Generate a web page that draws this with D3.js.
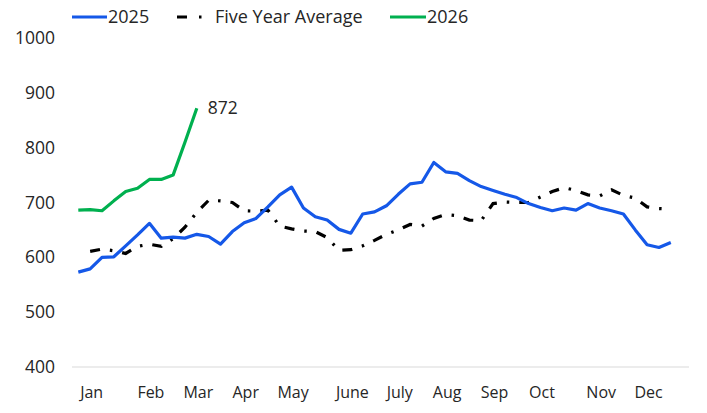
<!DOCTYPE html>
<html><head><meta charset="utf-8">
<script src="https://cdn.jsdelivr.net/npm/d3@7"></script>
<style>
body{margin:0;background:#fff;}
svg text{font-family:"Open Sans","Noto Sans",sans-serif;fill:#262626;}
</style></head>
<body><svg id="c" width="707" height="413"></svg>
<script>
const months = ["Jan","Feb","Mar","Apr","May","June","July","Aug","Sep","Oct","Nov","Dec"];
const monthWeeks = [1,6,10,14,18,23,27,31,35,39,44,48];
const yTicks = [400,500,600,700,800,900,1000];
const s2025 = [573,579,600,601,621,641,662,635,637,635,642,638,624,647,663,671,692,714,728,690,674,668,651,644,679,683,694,715,734,737,773,756,753,740,729,722,715,709,698,691,685,690,686,698,690,685,679,650,623,618,627];
const sAvg = [null,611,615,612,607,620,624,620,634,655,682,704,703,700,685,684,686,657,652,648,647,636,613,614,621,631,642,650,660,657,671,678,676,668,667,698,701,700,700,710,720,727,722,714,712,723,713,708,692,689,688];
const s2026 = [686,687,685,703,720,726,742,742,750,810,872];
const lastLabel = "872";

const svg = d3.select("#c");
const x = d3.scaleLinear().domain([0,51]).range([78.3,682.65]);
const y = d3.scaleLinear().domain([400,1000]).range([367,38]);

svg.append("line").attr("x1",72).attr("x2",689).attr("y1",y(400)).attr("y2",y(400))
  .attr("stroke","#d9d9d9").attr("stroke-width",1);

svg.selectAll(".yl").data(yTicks).enter().append("text")
  .attr("x",55).attr("y",d=>y(d)).attr("dy","0.35em").attr("text-anchor","end")
  .attr("font-size",17.5).text(d=>d);

svg.selectAll(".xl").data(months).enter().append("text")
  .attr("x",(d,i)=>x(monthWeeks[i])+1.5).attr("y",398).attr("text-anchor","middle")
  .attr("font-size",16).text(d=>d);

const line = d3.line().defined(d=>d!=null).x((d,i)=>x(i)).y(d=>y(d));
const lineI = d3.line().x(d=>x(d.i)).y(d=>y(d.v));

svg.append("path").datum(sAvg.map((v,i)=>({i,v})).filter(d=>d.v!=null))
  .attr("d",lineI).attr("fill","none").attr("stroke","#000").attr("stroke-width",3.2)
  .attr("stroke-dasharray","10,10,2.5,10");
svg.append("path").datum(s2025).attr("d",line).attr("fill","none")
  .attr("stroke","#1558e8").attr("stroke-width",3.2).attr("stroke-linejoin","round");
svg.append("path").datum(s2026).attr("d",line).attr("fill","none")
  .attr("stroke","#00b04f").attr("stroke-width",3.2).attr("stroke-linejoin","round");

svg.append("text").attr("x",x(s2026.length-1)+11).attr("y",y(s2026[s2026.length-1])).attr("dy","0.35em")
  .attr("font-size",17.5).text(lastLabel);

const lg = svg.append("g");
lg.append("line").attr("x1",72).attr("x2",107).attr("y1",17).attr("y2",17).attr("stroke","#1558e8").attr("stroke-width",3);
lg.append("text").attr("x",108).attr("y",17).attr("dy","0.35em").attr("font-size",18).text("2025");
lg.append("line").attr("x1",177).attr("x2",203).attr("y1",17).attr("y2",17).attr("stroke","#000").attr("stroke-width",3.2).attr("stroke-dasharray","10,12,2.5,10");
lg.append("text").attr("x",215).attr("y",17).attr("dy","0.35em").attr("font-size",18).text("Five Year Average");
lg.append("line").attr("x1",390).attr("x2",426).attr("y1",17).attr("y2",17).attr("stroke","#00b04f").attr("stroke-width",3);
lg.append("text").attr("x",427).attr("y",17).attr("dy","0.35em").attr("font-size",18).text("2026");
</script></body></html>
